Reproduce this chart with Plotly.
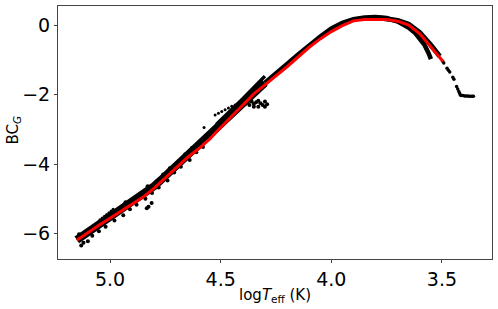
import plotly.graph_objects as go

# ---- data ----
# main black band (centre of the dense point cloud)
band_x = [5.15, 5.12, 5.10, 5.07, 5.05, 5.02, 5.00, 4.97, 4.95, 4.92, 4.90, 4.87, 4.85, 4.82,
          4.80, 4.77, 4.75, 4.72, 4.70, 4.67, 4.65, 4.62, 4.60, 4.57, 4.55, 4.52, 4.50, 4.47,
          4.45, 4.42, 4.40, 4.37, 4.35, 4.32, 4.30, 4.27, 4.25, 4.22, 4.20, 4.15, 4.10, 4.05,
          4.00, 3.95, 3.90, 3.85, 3.80, 3.75, 3.70, 3.65, 3.62, 3.60, 3.58, 3.56, 3.55]
band_y = [-6.18, -6.05, -5.95, -5.82, -5.72, -5.60, -5.50, -5.38, -5.29, -5.18, -5.10, -4.98,
          -4.88, -4.74, -4.63, -4.46, -4.34, -4.16, -4.04, -3.88, -3.76, -3.59, -3.48, -3.30,
          -3.18, -3.00, -2.87, -2.68, -2.55, -2.36, -2.23, -2.04, -1.93, -1.76, -1.66, -1.51,
          -1.40, -1.23, -1.12, -0.85, -0.58, -0.33, -0.10, 0.06, 0.17, 0.22, 0.23, 0.20, 0.10,
          -0.08, -0.24, -0.38, -0.56, -0.82, -0.98]

# cool upper black branch (hugging the red fit)
upper_x = [3.78, 3.75, 3.70, 3.65, 3.60, 3.55, 3.51]
upper_y = [0.20, 0.18, 0.13, 0.02, -0.22, -0.58, -0.90]

# scatter around the hot end of the band
noise_x = [5.14, 5.13, 5.12, 5.11, 5.10, 5.09, 5.08, 5.06, 5.05, 5.03, 5.02, 4.99, 4.98, 4.96,
           4.94, 4.93, 4.91, 4.89, 4.88, 4.86, 4.84, 4.83, 4.81, 4.79, 4.78, 4.76, 4.74, 4.73,
           4.71, 4.69, 4.68, 4.66, 4.64, 4.63, 4.61, 4.59, 4.58, 4.56]
noise_y = [-6.02, -6.34, -6.26, -5.94, -6.22, -5.86, -6.06, -5.72, -5.93, -5.60, -5.80, -5.42,
           -5.62, -5.30, -5.47, -5.10, -5.30, -5.00, -5.17, -4.84, -5.00, -4.64, -4.83, -4.50,
           -4.67, -4.30, -4.47, -4.12, -4.24, -3.92, -4.08, -3.72, -3.88, -3.54, -3.66, -3.40,
           -3.51, -3.17]

# dotted row above the band (hot end)
row1_x = [5.045, 5.035, 5.025, 5.015, 5.005, 4.995, 4.986]
row1_y = [-5.60, -5.55, -5.50, -5.45, -5.40, -5.35, -5.30]

# dotted row above the band near logT 4.5
row2_x = [4.575, 4.525, 4.51, 4.495, 4.48, 4.465, 4.45, 4.435]
row2_y = [-2.95, -2.59, -2.54, -2.49, -2.44, -2.39, -2.34, -2.30]

# outliers below the band
out_x = [4.834, 4.826, 4.812]
out_y = [-5.27, -5.23, -5.12]

# straight stripe branching off near logT 4.4
stripe_x = [4.52, 4.48, 4.44, 4.40, 4.36, 4.33, 4.30]
stripe_y = [-2.86, -2.62, -2.37, -2.12, -1.86, -1.66, -1.47]

# clump near logT 4.35
clump_x = [4.40, 4.39, 4.38, 4.37, 4.36, 4.35, 4.34, 4.33, 4.32, 4.31, 4.30, 4.30, 4.29, 4.35, 4.33]
clump_y = [-2.18, -2.28, -2.22, -2.30, -2.20, -2.27, -2.22, -2.35, -2.25, -2.30, -2.20, -2.35,
           -2.28, -2.35, -2.18]

# sparse cool tail (dashed-looking runs of points, then a flat end)
tail_x = [3.497, 3.492,
          3.477, 3.471, 3.465,
          3.451, 3.446,
          3.434, 3.429, 3.424, 3.420, 3.416,
          3.412, 3.405, 3.398, 3.391, 3.384, 3.377, 3.370, 3.363, 3.358]
tail_y = [-1.04, -1.09,
          -1.24, -1.30, -1.35,
          -1.50, -1.56,
          -1.77, -1.84, -1.91, -1.97, -2.02,
          -2.03, -2.03, -2.04, -2.04, -2.04, -2.05, -2.05, -2.05, -2.05]

# red fitted relation
fit_x = [5.15, 5.10, 5.05, 5.00, 4.95, 4.90, 4.85, 4.80, 4.75, 4.70, 4.65, 4.60, 4.55, 4.50,
         4.45, 4.40, 4.35, 4.30, 4.25, 4.20, 4.15, 4.10, 4.05, 4.00, 3.95, 3.90, 3.85, 3.80,
         3.75, 3.70, 3.65, 3.60, 3.55, 3.495]
fit_y = [-6.19, -5.97, -5.76, -5.56, -5.35, -5.16, -4.95, -4.69, -4.39, -4.10, -3.81, -3.56,
         -3.28, -2.95, -2.63, -2.30, -1.98, -1.72, -1.47, -1.20, -0.92, -0.64, -0.40, -0.19,
         -0.02, 0.12, 0.16, 0.17, 0.16, 0.11, 0.0, -0.25, -0.62, -1.05]

x_ticks = [5.0, 4.5, 4.0, 3.5]
y_ticks = [0, -2, -4, -6]

BLACK = "#000000"
RED = "#ff0000"

fig = go.Figure()

def dots(x, y, size=4):
    fig.add_trace(go.Scatter(x=x, y=y, mode="markers",
                             marker=dict(color=BLACK, size=size, line=dict(width=0)),
                             showlegend=False, hoverinfo="skip"))

# band: hot part thicker, cooler part thinner
split = band_x.index(4.30)
fig.add_trace(go.Scatter(x=band_x[:split + 1], y=band_y[:split + 1], mode="lines",
                         line=dict(color=BLACK, width=8), showlegend=False, hoverinfo="skip"))
fig.add_trace(go.Scatter(x=band_x[split:], y=band_y[split:], mode="lines",
                         line=dict(color=BLACK, width=4.5), showlegend=False, hoverinfo="skip"))
fig.add_trace(go.Scatter(x=upper_x, y=upper_y, mode="lines",
                         line=dict(color=BLACK, width=5), showlegend=False, hoverinfo="skip"))
fig.add_trace(go.Scatter(x=stripe_x, y=stripe_y, mode="lines",
                         line=dict(color=BLACK, width=3.5), showlegend=False, hoverinfo="skip"))
dots(noise_x, noise_y, 4)
dots(row1_x, row1_y, 3)
dots(row2_x, row2_y, 3)
dots(out_x, out_y, 4)
dots(clump_x, clump_y, 4)
dots(tail_x, tail_y, 3.5)

fig.add_trace(go.Scatter(x=fit_x, y=fit_y, mode="lines",
                         line=dict(color=RED, width=3), showlegend=False, hoverinfo="skip"))

axis_common = dict(showgrid=False, zeroline=False, showline=True, linecolor="#444444",
                   linewidth=1, mirror=True, ticks="outside", ticklen=3, tickwidth=1,
                   tickcolor="#444444", automargin=False,
                   tickfont=dict(family="DejaVu Sans", size=19, color="black"))

fig.update_xaxes(range=[5.235, 3.274], tickvals=x_ticks,
                 ticktext=[f"{v:.1f}" for v in x_ticks], **axis_common)
fig.update_yaxes(range=[-6.73, 0.547], tickvals=y_ticks, **axis_common)

title_font = dict(family="DejaVu Sans", size=15, color="black")
fig.add_annotation(text="log<i>T</i><sub>eff</sub> (K)", xref="paper", yref="paper",
                   x=0.5, y=0, yshift=-36, xanchor="center", yanchor="middle",
                   showarrow=False, font=title_font)
fig.add_annotation(text="BC<sub><i>G</i></sub>", xref="paper", yref="paper",
                   x=0, y=0.5, xshift=-45, yshift=2, xanchor="center", yanchor="middle",
                   textangle=-90, showarrow=False, font=title_font)

fig.update_layout(width=498, height=309, margin=dict(l=58, r=6, t=6, b=50, autoexpand=False),
                  paper_bgcolor="white", plot_bgcolor="white",
                  font=dict(family="DejaVu Sans", color="black"))

fig.write_html("out.html", config={"displayModeBar": False},
               post_script="document.body.style.margin='0px';")
